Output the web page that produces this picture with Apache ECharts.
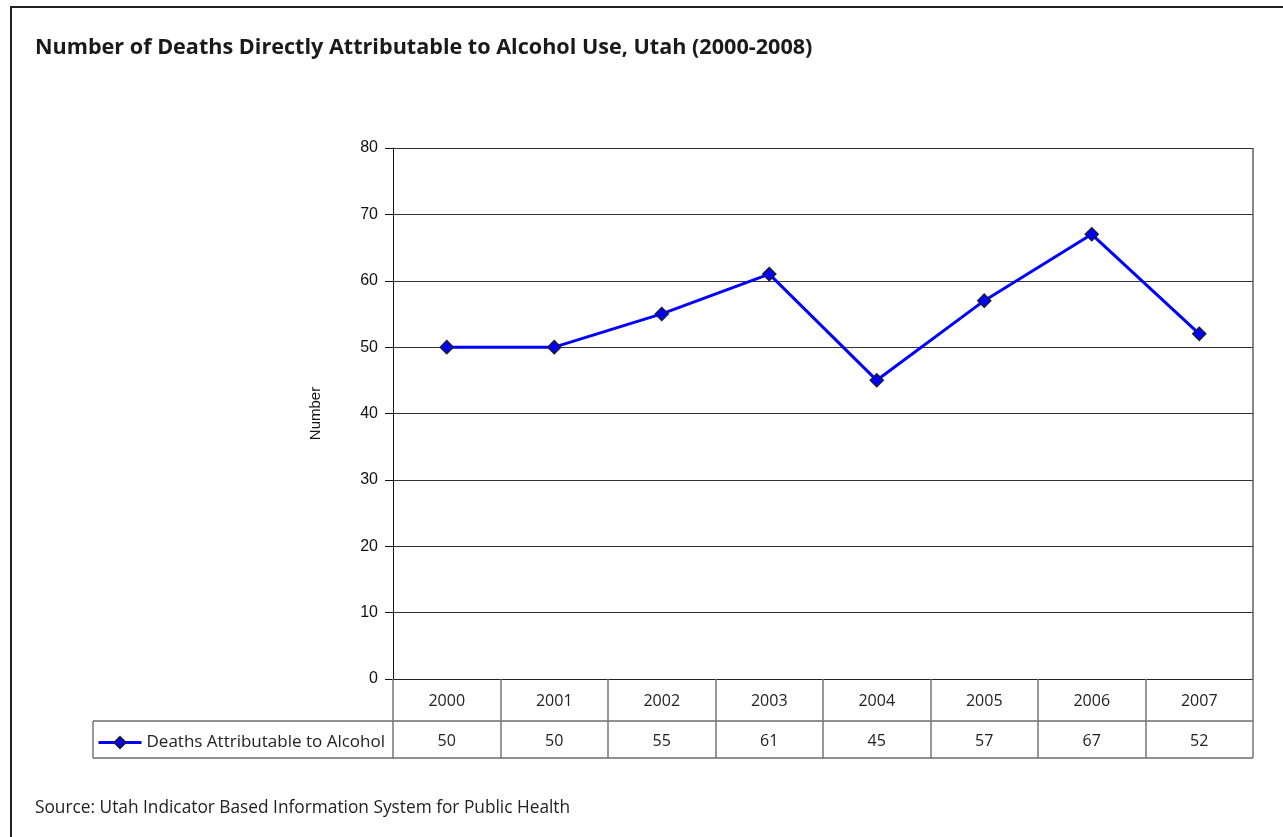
<!DOCTYPE html>
<html><head><meta charset="utf-8">
<script src="https://cdn.jsdelivr.net/npm/echarts@6/dist/echarts.min.js"></script>
<style>html,body{margin:0;padding:0;background:#fff;}#c{width:1283px;height:837px;}</style>
</head><body><div id="c"></div>
<script>
const years = ['2000','2001','2002','2003','2004','2005','2006','2007'];
const deaths = [50, 50, 55, 61, 45, 57, 67, 52];
const yTicks = {min: 0, max: 80, interval: 10};
const seriesName = 'Deaths Attributable to Alcohol';
const titleText = 'Number of Deaths Directly Attributable to Alcohol Use, Utah (2000-2008)';
const sourceText = 'Source: Utah Indicator Based Information System for Public Health';

const W = 1283, H = 837;
const G = {left: 393, right: 30, top: 148, bottom: 158};
const gx0 = G.left, gx1 = W - G.right, gy1 = H - G.bottom;
const row1 = gy1 + 42, row2 = gy1 + 79, legendLeft = 93;
const tFont = '"Open Sans", Lato, sans-serif';
const aFont = '"Liberation Sans", Arial, sans-serif';

const chart = echarts.init(document.getElementById('c'), null, {renderer: 'canvas'});
chart.setOption({
  animation: false,
  backgroundColor: '#fff',
  grid: {left: G.left, right: G.right, top: G.top, bottom: G.bottom, containLabel: false},
  title: {text: titleText, left: 35, top: 37, padding: 0, textStyle: {fontFamily: tFont, fontWeight: 'bold', fontSize: 21.6, color: '#1a1a1a'}},
  legend: {
    left: legendLeft - 1, top: row1 + 8, itemWidth: 43, itemHeight: 14, itemGap: 4,
    textStyle: {fontFamily: tFont, fontSize: 17, color: '#222'},
    lineStyle: {width: 3, color: '#0000ff'},
    data: [seriesName]
  },
  xAxis: [{
    type: 'category', data: years, boundaryGap: true, position: 'bottom',
    axisLine: {show: true, lineStyle: {color: '#222', width: 1}},
    axisTick: {show: true, length: row2 - gy1, lineStyle: {color: '#777', width: 1.5}},
    axisLabel: {margin: 14, fontFamily: tFont, fontSize: 16, color: '#222'},
    splitLine: {show: false}
  }, {
    type: 'category', data: deaths.map(String), boundaryGap: true, position: 'bottom', offset: 0,
    axisLine: {show: false}, axisTick: {show: false},
    axisLabel: {margin: 54, fontFamily: tFont, fontSize: 16, color: '#222'},
    splitLine: {show: false}
  }],
  yAxis: {
    type: 'value', min: yTicks.min, max: yTicks.max, interval: yTicks.interval,
    name: 'Number', nameLocation: 'middle', nameGap: 70, nameRotate: 90,
    nameTextStyle: {fontFamily: aFont, fontSize: 15, color: '#111'},
    axisLine: {show: true, lineStyle: {color: '#111', width: 1}},
    axisTick: {show: true, length: 8, lineStyle: {color: '#111'}},
    axisLabel: {margin: 15, fontFamily: aFont, fontSize: 16, color: '#111'},
    splitLine: {show: true, lineStyle: {color: '#333', width: 1}}
  },
  series: [{
    name: seriesName, type: 'line', xAxisIndex: 0, data: deaths,
    symbol: 'diamond', symbolSize: 13,
    lineStyle: {color: '#0000ff', width: 3},
    itemStyle: {color: '#0000ff', borderColor: '#1a1a40', borderWidth: 1.5}
  }],
  graphic: [
    {type: 'rect', shape: {x: 11, y: 7, width: 1400, height: 1000}, style: {fill: 'none', stroke: '#222', lineWidth: 2}, silent: true},
    {type: 'line', shape: {x1: gx1, y1: G.top, x2: gx1, y2: gy1}, style: {stroke: '#888', lineWidth: 2}},
    {type: 'line', shape: {x1: legendLeft, y1: row1, x2: gx1, y2: row1}, style: {stroke: '#222', lineWidth: 1}},
    {type: 'line', shape: {x1: legendLeft, y1: row2, x2: gx1, y2: row2}, style: {stroke: '#222', lineWidth: 1}},
    {type: 'line', shape: {x1: legendLeft, y1: row1, x2: legendLeft, y2: row2}, style: {stroke: '#777', lineWidth: 1.5}},
    {type: 'text', left: 35, top: 800, style: {text: sourceText, font: '17.3px ' + tFont, fill: '#222'}}
  ]
});
</script></body></html>
